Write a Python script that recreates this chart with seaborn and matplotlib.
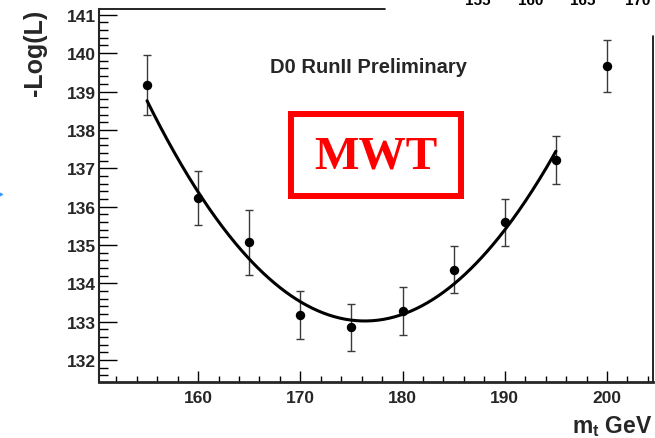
import numpy as np
import pandas as pd
import matplotlib
matplotlib.use("Agg")
import matplotlib.pyplot as plt
from matplotlib.lines import Line2D
from matplotlib.patches import Rectangle
from matplotlib.ticker import MultipleLocator
import seaborn as sns

# Scan points: top-quark mass hypothesis and -log(likelihood)
mass_gev = [155, 160, 165, 170, 175, 180, 185, 190, 195, 200]
neg_log_l = [139.17, 136.22, 135.07, 133.17, 132.86, 133.28, 134.36, 135.59, 137.21, 139.67]
neg_log_l_err = [0.77, 0.70, 0.85, 0.63, 0.61, 0.62, 0.61, 0.62, 0.63, 0.67]

# Parabolic fit to the scan (minimum position, minimum value, curvature, fit range)
fit_min_mass = 176.3
fit_min_value = 133.02
fit_curvature = 0.01265
fit_range = (155, 195)

# Partially hidden tick labels of an overlapping panel at the top edge
overlap_labels = ["155", "160", "165", "170"]

sns.set_style("ticks")
plt.rcParams["font.family"] = ["Liberation Sans", "DejaVu Sans"]
plt.rcParams["mathtext.fontset"] = "custom"
plt.rcParams["mathtext.bf"] = "Liberation Sans:bold"
plt.rcParams["mathtext.rm"] = "Liberation Sans"

W, H = 655, 439
fig = plt.figure(figsize=(W / 100, H / 100), dpi=100)
ax_l, ax_r, ax_b, ax_t = 99, 653, 383, 10
ax = fig.add_axes([ax_l / W, 1 - ax_b / H, (ax_r - ax_l) / W, (ax_b - ax_t) / H])

scan = pd.DataFrame({"mass": mass_gev, "nll": neg_log_l, "err": neg_log_l_err})

ax.errorbar(scan["mass"], scan["nll"], yerr=scan["err"], fmt="none",
            ecolor="#3a3a3a", elinewidth=1.0, capsize=2.6, capthick=1.0, zorder=2)
sns.scatterplot(data=scan, x="mass", y="nll", ax=ax, color="black", s=46,
                edgecolor="black", linewidth=0, zorder=3, legend=False)

mgrid = np.linspace(fit_range[0], fit_range[1], 300)
fit_df = pd.DataFrame({"mass": mgrid,
                       "nll": fit_min_value + fit_curvature * (mgrid - fit_min_mass) ** 2})
sns.lineplot(data=fit_df, x="mass", y="nll", ax=ax, color="black", linewidth=2.2,
             zorder=2.5, legend=False)

ax.set_xlim(150.3, 204.5)
ax.set_ylim(131.43, 141.15)

ax.xaxis.set_major_locator(MultipleLocator(10))
ax.xaxis.set_minor_locator(MultipleLocator(2))
ax.yaxis.set_major_locator(MultipleLocator(1))
ax.yaxis.set_minor_locator(MultipleLocator(0.2))

ax.tick_params(axis="both", which="both", direction="in", color="black", width=1.0,
               top=False, right=False)
ax.tick_params(axis="y", which="major", length=12.7, pad=2.5, labelsize=12.5)
ax.tick_params(axis="y", which="minor", length=6.5)
ax.tick_params(axis="x", which="major", length=8, pad=6, labelsize=12.5)
ax.tick_params(axis="x", which="minor", length=4)
for lab in ax.get_xticklabels() + ax.get_yticklabels():
    lab.set_fontweight("bold")

for side in ["top", "right"]:
    ax.spines[side].set_visible(False)
ax.spines["left"].set_linewidth(1.5)
ax.spines["bottom"].set_linewidth(2.0)
ax.add_line(Line2D([0, (385 - ax_l) / (ax_r - ax_l)], [1, 1], transform=ax.transAxes,
                   color="black", linewidth=1.2, clip_on=False))
ax.add_line(Line2D([1, 1], [0, (ax_b - 37) / (ax_b - ax_t)], transform=ax.transAxes,
                   color="black", linewidth=1.2, clip_on=False))

ax.set_ylabel("-Log(L)", fontsize=18, fontweight="bold", loc="top")
ax.yaxis.set_label_coords(-0.094, 1.0)
ax.set_xlabel(r"m$_\mathbf{t}$ GeV", fontsize=16.5, fontweight="bold", loc="right")
ax.xaxis.set_label_coords(1.0, -0.083)

ax.text(0.486, 0.845, "D0 RunII Preliminary", transform=ax.transAxes, ha="center",
        va="center", fontsize=14.5, fontweight="bold")

# Red framed label
bx0, bx1, by0, by1 = 291, 461, 114.7, 197
fig.add_artist(Rectangle((bx0 / W, 1 - by1 / H), (bx1 - bx0) / W, (by1 - by0) / H,
                         transform=fig.transFigure, fill=False, edgecolor="#ff0000",
                         linewidth=4.3))
fig.text((bx0 + bx1) / 2 / W, 1 - 158 / H, "MWT", ha="center", va="center",
         color="#ff0000", fontsize=34, fontweight="bold",
         family=["Liberation Serif", "DejaVu Serif"])

for xpix, lab in zip([478, 531, 583, 638], overlap_labels):
    fig.text(xpix / W, 1 - 5 / H, lab, ha="center", va="baseline", fontsize=11,
             fontweight="bold", color="black")

fig.add_artist(Line2D([-1.5 / W], [1 - 195 / H], marker=">", color="#3399ff",
                      markersize=5, transform=fig.transFigure, linestyle="none"))

fig.savefig("out.png", dpi=100)
